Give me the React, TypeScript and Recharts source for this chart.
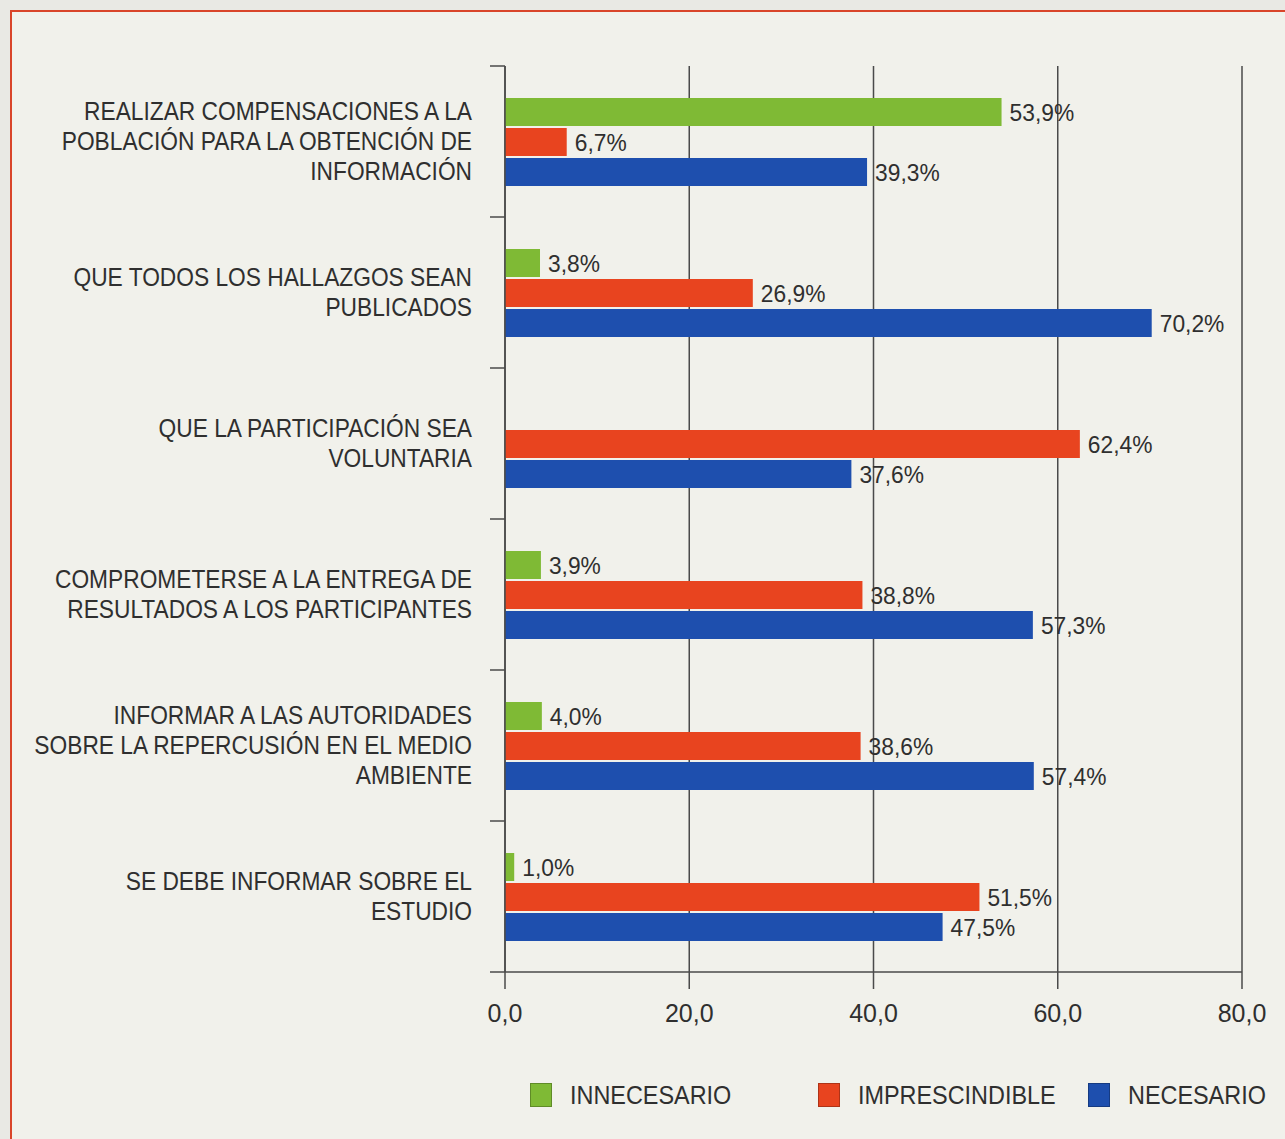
import { BarChart, Bar, XAxis, YAxis, CartesianGrid, Legend, LabelList } from 'recharts';

const categories = [
  'REALIZAR COMPENSACIONES A LA\nPOBLACIÓN PARA LA OBTENCIÓN DE\nINFORMACIÓN',
  'QUE TODOS LOS HALLAZGOS SEAN\nPUBLICADOS',
  'QUE LA PARTICIPACIÓN SEA\nVOLUNTARIA',
  'COMPROMETERSE A LA ENTREGA DE\nRESULTADOS A LOS PARTICIPANTES',
  'INFORMAR A LAS AUTORIDADES\nSOBRE LA REPERCUSIÓN EN EL MEDIO\nAMBIENTE',
  'SE DEBE INFORMAR SOBRE EL\nESTUDIO',
];
const innecesario = [53.9, 3.8, null, 3.9, 4.0, 1.0];
const imprescindible = [6.7, 26.9, 62.4, 38.8, 38.6, 51.5];
const necesario = [39.3, 70.2, 37.6, 57.3, 57.4, 47.5];
const xTicks = [0, 20, 40, 60, 80];

const data = categories.map((c, i) => ({
  cat: c,
  innecesario: innecesario[i],
  imprescindible: imprescindible[i],
  necesario: necesario[i],
}));

const FONT = "'Liberation Sans Narrow', 'Arial Narrow', 'Liberation Sans', sans-serif";
const INK = '#2f2f2f';
const AXIS = '#4a4a4a';
const NARROW = 0.91;

const series = [
  { key: 'innecesario', name: 'INNECESARIO', color: '#7fba35' },
  { key: 'imprescindible', name: 'IMPRESCINDIBLE', color: '#e8441f' },
  { key: 'necesario', name: 'NECESARIO', color: '#1e4fae' },
];

const pct = (v: any) => (v == null ? '' : Number(v).toFixed(1).replace('.', ',') + '%');

// category text, squeezed to look like the narrow face of the original
function CatTick(props: any) {
  const { x, y, payload, index } = props;
  const lines = String(payload.value).split('\n');
  const half = payload.offset || 75.5;
  const lh = 30;
  const start = y - ((lines.length - 1) * lh) / 2;
  return (
    <g>
      <line x1={x + 18} x2={x + 33} y1={y - half} y2={y - half} stroke={AXIS} strokeWidth={1.5} />
      {index === categories.length - 1 && (
        <line x1={x + 18} x2={x + 33} y1={y + half} y2={y + half} stroke={AXIS} strokeWidth={1.5} />
      )}
      <g transform={`translate(${x},0) scale(${NARROW},1)`}>
        <text x={0} y={start} textAnchor="end" fontFamily={FONT} fontSize={25} fill={INK}>
          {lines.map((l, i) => (
            <tspan key={i} x={0} y={start + i * lh} dy="0.36em">
              {l}
            </tspan>
          ))}
        </text>
      </g>
    </g>
  );
}

function ValueLabel(props: any) {
  const { x, y, width, height, value } = props;
  if (value == null) return null;
  const tx = x + width + 8;
  return (
    <g transform={`translate(${tx},0) scale(0.95,1)`}>
      <text x={0} y={y + height / 2} dy="0.36em" fontFamily={FONT} fontSize={24} fill={INK}>
        {pct(value)}
      </text>
    </g>
  );
}

function LegendBox() {
  const widths = [288, 270, 180];
  return (
    <div style={{ display: 'flex', alignItems: 'center', height: 82, paddingTop: 44, boxSizing: 'border-box' }}>
      {series.map((s, i) => (
        <div key={s.key} style={{ display: 'flex', alignItems: 'center', width: widths[i], flex: 'none' }}>
          <span
            style={{
              display: 'inline-block',
              width: 20,
              height: 22,
              background: s.color,
              border: '1px solid rgba(0,0,0,0.25)',
              marginRight: 18,
              flex: 'none',
            }}
          />
          <span
            style={{
              fontFamily: FONT,
              fontSize: 26,
              color: INK,
              display: 'inline-block',
              transform: 'scaleX(0.9)',
              transformOrigin: 'left center',
              whiteSpace: 'nowrap',
            }}
          >
            {s.name}
          </span>
        </div>
      ))}
    </div>
  );
}

export default function App() {
  return (
    <div
      style={{
        position: 'absolute',
        left: 0,
        top: 0,
        width: 1285,
        height: 1139,
        overflow: 'hidden',
        background: '#e9e9e4',
      }}
    >
      <div
        style={{
          position: 'absolute',
          left: 10,
          top: 10,
          width: 1290,
          height: 1140,
          borderLeft: '2px solid #d9452a',
          borderTop: '2px solid #d9452a',
          background: '#f1f1eb',
        }}
      />
      <div style={{ position: 'absolute', left: 0, top: 0 }}>
        <BarChart
          layout="vertical"
          width={1285}
          height={1139}
          data={data}
          margin={{ top: 66, right: 43, bottom: 25, left: 10 }}
          barSize={28}
          barGap={2}
          barCategoryGap={0}
        >
          <CartesianGrid horizontal={false} stroke={AXIS} strokeWidth={1.5} />
          <XAxis
            type="number"
            domain={[0, 80]}
            ticks={xTicks}
            height={60}
            tickFormatter={(v) => Number(v).toFixed(1).replace('.', ',')}
            tick={{ fontFamily: FONT, fontSize: 25, fill: INK }}
            tickSize={17}
            tickMargin={15}
            axisLine={{ stroke: AXIS, strokeWidth: 1.5 }}
            tickLine={{ stroke: AXIS, strokeWidth: 1.5 }}
          />
          <YAxis
            type="category"
            dataKey="cat"
            width={495}
            tick={<CatTick />}
            tickLine={false}
            tickSize={0}
            tickMargin={33}
            axisLine={{ stroke: AXIS, strokeWidth: 1.5 }}
            interval={0}
          />
          <Legend
            verticalAlign="bottom"
            height={82}
            content={<LegendBox />}
            wrapperStyle={{ left: 530, width: 760 }}
          />
          {series.map((s) => (
            <Bar key={s.key} dataKey={s.key} name={s.name} fill={s.color} isAnimationActive={false}>
              <LabelList dataKey={s.key} content={<ValueLabel />} />
            </Bar>
          ))}
        </BarChart>
      </div>
    </div>
  );
}
